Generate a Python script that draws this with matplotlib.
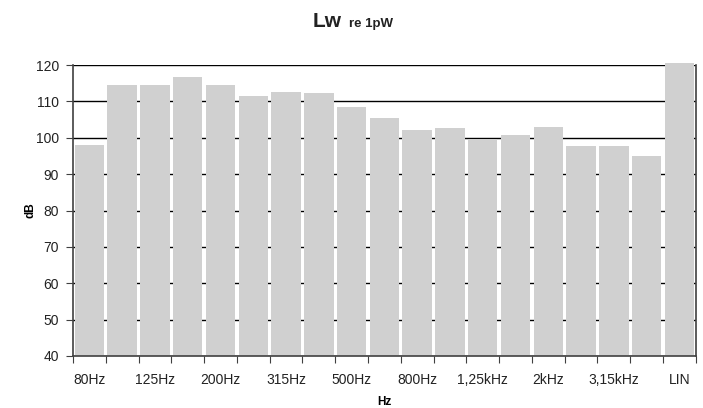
import matplotlib.pyplot as plt
import numpy as np
from matplotlib.ticker import FixedLocator, NullFormatter

plt.rcParams['font.family'] = ['Liberation Sans', 'DejaVu Sans']

# Sound power level per third-octave band
bands = ['80Hz', '100Hz', '125Hz', '160Hz', '200Hz', '250Hz', '315Hz', '400Hz',
         '500Hz', '630Hz', '800Hz', '1kHz', '1,25kHz', '1,6kHz', '2kHz',
         '2,5kHz', '3,15kHz', '4kHz', 'LIN']
levels = [98.0, 114.4, 114.4, 116.8, 114.6, 111.5, 112.5, 112.4, 108.5, 105.5,
          102.1, 102.6, 99.6, 100.9, 103.0, 97.7, 97.7, 95.0, 120.5]
yticks = [40, 50, 60, 70, 80, 90, 100, 110, 120]

ymin, ymax = 40, 120

fig = plt.figure(figsize=(7.03, 4.08), dpi=100)
ax = fig.add_axes([0.1038, 0.1275, 0.886, 0.713])

x = np.arange(len(bands))
heights = np.array(levels) - ymin
# bars start at the axis floor; the LIN bar pokes slightly above the top like the original
ax.bar(x, heights, width=0.9, bottom=ymin, color='#d0d0d0', zorder=2, clip_on=False)

ax.set_ylim(ymin, ymax)
ax.set_xlim(-0.5, len(bands) - 0.5)
ax.set_yticks(yticks)
ax.yaxis.grid(True, color='black', linewidth=1.0, zorder=1)
ax.set_axisbelow(True)

# tick marks at the category boundaries, labels on every other band
ax.xaxis.set_major_locator(FixedLocator(np.arange(-0.5, len(bands), 1.0)))
ax.xaxis.set_major_formatter(NullFormatter())
ax.xaxis.set_minor_locator(FixedLocator(x[::2]))
ax.set_xticklabels(bands[::2], minor=True)
ax.tick_params(axis='x', which='major', length=5, direction='out', color='#404040')
ax.tick_params(axis='x', which='minor', length=0, pad=12, labelsize=10, labelcolor='#222222')
ax.tick_params(axis='y', length=5, direction='out', color='#404040', labelsize=10,
               labelcolor='#222222', pad=5)

for side in ['left', 'bottom', 'right', 'top']:
    ax.spines[side].set_color('#404040')
    ax.spines[side].set_linewidth(1.2)
    ax.spines[side].set_zorder(3)
ax.spines['top'].set_visible(False)

ax.set_ylabel('dB', fontweight='bold', fontsize=8.5)
ax.yaxis.set_label_coords(-0.058, 0.5)
ax.set_xlabel('Hz', fontweight='bold', fontsize=8.5, labelpad=7)

fig.text(0.445, 0.935, 'Lw', fontsize=15, fontweight='bold', ha='left', va='baseline',
         color='#222222')
fig.text(0.496, 0.935, 're 1pW', fontsize=9.5, fontweight='bold', ha='left', va='baseline',
         color='#222222')

fig.savefig('out.png', dpi=100)
